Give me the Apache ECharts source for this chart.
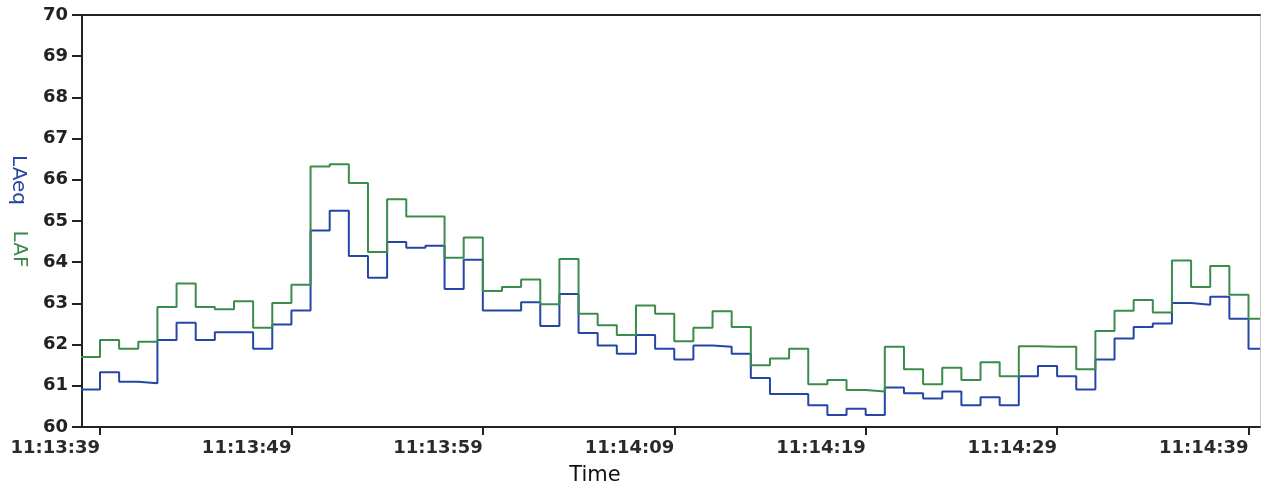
<!DOCTYPE html>
<html>
<head>
<meta charset="utf-8">
<title>LAeq / LAF</title>
<script src="https://cdn.jsdelivr.net/npm/echarts@6/dist/echarts.min.js"></script>
<style>
  html, body { margin: 0; padding: 0; background: #ffffff; }
  #chart { width: 1262px; height: 489px; }
</style>
</head>
<body>
<div id="chart"></div>
<script>
// One-second samples, 11:13:38 .. 11:14:39
const times = [
  "11:13:38","11:13:39","11:13:40","11:13:41","11:13:42","11:13:43","11:13:44","11:13:45",
  "11:13:46","11:13:47","11:13:48","11:13:49","11:13:50","11:13:51","11:13:52","11:13:53",
  "11:13:54","11:13:55","11:13:56","11:13:57","11:13:58","11:13:59","11:14:00","11:14:01",
  "11:14:02","11:14:03","11:14:04","11:14:05","11:14:06","11:14:07","11:14:08","11:14:09",
  "11:14:10","11:14:11","11:14:12","11:14:13","11:14:14","11:14:15","11:14:16","11:14:17",
  "11:14:18","11:14:19","11:14:20","11:14:21","11:14:22","11:14:23","11:14:24","11:14:25",
  "11:14:26","11:14:27","11:14:28","11:14:29","11:14:30","11:14:31","11:14:32","11:14:33",
  "11:14:34","11:14:35","11:14:36","11:14:37","11:14:38","11:14:39"
];

// LAF (fast-weighted level), dB
const laf = [
  61.70, 62.11, 61.90, 62.07, 62.91, 63.48, 62.91, 62.86,
  63.05, 62.41, 63.01, 63.45, 66.32, 66.38, 65.92, 64.25,
  65.53, 65.11, 65.11, 64.11, 64.60, 63.30, 63.40, 63.58,
  62.98, 64.08, 62.75, 62.47, 62.23, 62.95, 62.75, 62.08,
  62.41, 62.81, 62.43, 61.50, 61.66, 61.90, 61.04, 61.14,
  60.90, 60.86, 61.95, 61.40, 61.04, 61.44, 61.14, 61.57,
  61.23, 61.96, 61.95, 61.95, 61.40, 62.33, 62.82, 63.08,
  62.78, 64.04, 63.40, 63.91, 63.21, 62.63
];

// LAeq (equivalent continuous level), dB
const laeq = [
  60.91, 61.33, 61.10, 61.06, 62.11, 62.53, 62.11, 62.30,
  62.30, 61.90, 62.49, 62.83, 64.77, 65.25, 64.15, 63.62,
  64.49, 64.35, 64.40, 63.35, 64.06, 62.83, 62.83, 63.03,
  62.45, 63.23, 62.28, 61.98, 61.78, 62.23, 61.90, 61.64,
  61.98, 61.95, 61.78, 61.19, 60.80, 60.80, 60.53, 60.29,
  60.44, 60.29, 60.96, 60.82, 60.69, 60.86, 60.53, 60.72,
  60.53, 61.23, 61.48, 61.23, 60.91, 61.64, 62.15, 62.43,
  62.51, 63.01, 62.97, 63.16, 62.63, 61.90
];

const tickLabels = ["11:13:39","11:13:49","11:13:59","11:14:09","11:14:19","11:14:29","11:14:39"];

const toSec = s => { const p = s.split(":").map(Number); return p[0] * 3600 + p[1] * 60 + p[2]; };
const pad = n => String(n).padStart(2, "0");
const toLabel = v => {
  const t = Math.round(v);
  return pad(Math.floor(t / 3600)) + ":" + pad(Math.floor(t % 3600 / 60)) + ":" + pad(t % 60);
};

const xs = times.map(toSec);
const tickSecs = tickLabels.map(toSec);
const xMin = xs[0] + 0.06;
const xMax = xs[xs.length - 1] + 0.6;

// Each sample holds its level until the next one; the last one runs to the axis end.
const stepData = vals => {
  const pts = xs.map((x, i) => [x, vals[i]]);
  pts.push([xMax, vals[vals.length - 1]]);
  return pts;
};

const BLUE = "#2646a6";
const GREEN = "#3a8c4a";

const chart = echarts.init(document.getElementById("chart"), null, { renderer: "canvas" });

chart.setOption({
  backgroundColor: "#ffffff",
  animation: false,
  grid: { left: 82, right: 2, top: 15, bottom: 62, outerBoundsMode: "none", containLabel: false },
  xAxis: [
    {
      type: "value",
      position: "bottom",
      min: xMin,
      max: xMax,
      splitLine: { show: false },
      axisLine: { show: true, onZero: false, lineStyle: { color: "#222", width: 2 } },
      axisTick: { show: true, customValues: tickSecs, length: 8, lineStyle: { color: "#222", width: 2 } },
      axisLabel: {
        customValues: tickSecs,
        formatter: v => toLabel(v),
        align: "right",
        margin: 12,
        color: "#2a2a2a",
        fontFamily: "DejaVu Sans",
        fontWeight: "bold",
        fontSize: 18,
        hideOverlap: false
      }
    },
    {
      type: "value",
      position: "top",
      min: xMin,
      max: xMax,
      splitLine: { show: false },
      axisLine: { show: true, onZero: false, lineStyle: { color: "#222", width: 2 } },
      axisTick: { show: false },
      axisLabel: { show: false }
    }
  ],
  yAxis: [
    {
      type: "value",
      position: "left",
      min: 60,
      max: 70,
      interval: 1,
      splitLine: { show: false },
      axisLine: { show: true, onZero: false, lineStyle: { color: "#222", width: 2 } },
      axisTick: { show: true, length: 10, lineStyle: { color: "#222", width: 2 } },
      axisLabel: {
        margin: 14,
        color: "#222",
        fontFamily: "DejaVu Sans",
        fontWeight: "bold",
        fontSize: 18
      }
    },
    {
      type: "value",
      position: "right",
      min: 60,
      max: 70,
      splitLine: { show: false },
      axisLine: { show: true, onZero: false, lineStyle: { color: "#c8c8c8", width: 1 } },
      axisTick: { show: false },
      axisLabel: { show: false }
    }
  ],
  series: [
    {
      name: "LAeq",
      type: "line",
      step: "end",
      xAxisIndex: 0,
      yAxisIndex: 0,
      symbol: "none",
      clip: true,
      lineStyle: { color: BLUE, width: 2 },
      data: stepData(laeq)
    },
    {
      name: "LAF",
      type: "line",
      step: "end",
      xAxisIndex: 0,
      yAxisIndex: 0,
      symbol: "none",
      clip: true,
      lineStyle: { color: GREEN, width: 2 },
      data: stepData(laf)
    }
  ],
  graphic: [
    {
      type: "text",
      x: 18, y: 180,
      rotation: -Math.PI / 2,
      style: {
        text: "LAeq", fill: BLUE, font: "20px 'DejaVu Sans'",
        align: "center", verticalAlign: "middle"
      }
    },
    {
      type: "text",
      x: 19, y: 249,
      rotation: -Math.PI / 2,
      style: {
        text: "LAF", fill: GREEN, font: "20px 'DejaVu Sans'",
        align: "center", verticalAlign: "middle"
      }
    },
    {
      type: "text",
      x: 595, y: 476,
      style: {
        text: "Time", fill: "#111", font: "21px 'DejaVu Sans'",
        align: "center", verticalAlign: "middle"
      }
    }
  ]
});
</script>
</body>
</html>
